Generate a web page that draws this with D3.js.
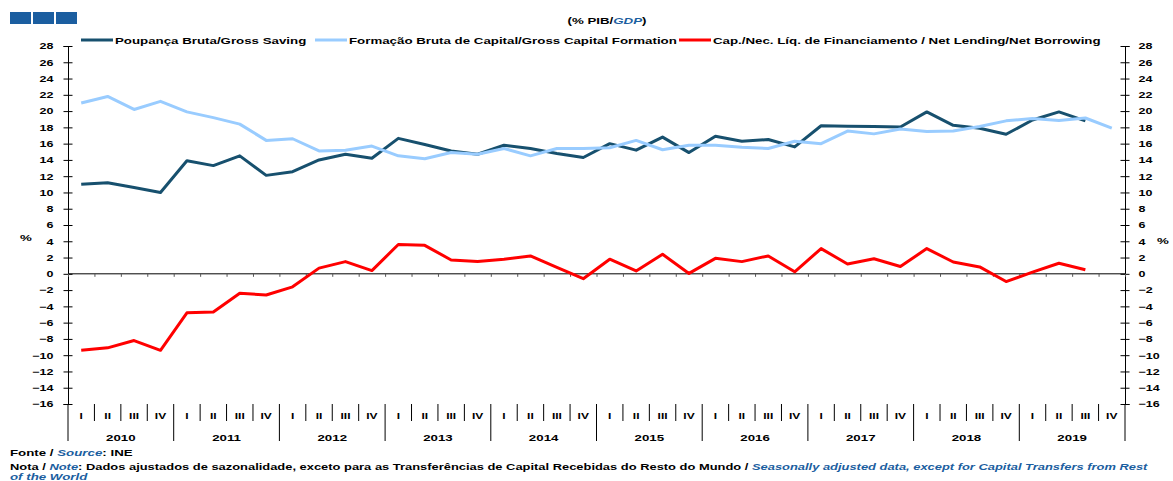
<!DOCTYPE html>
<html>
<head>
<meta charset="utf-8">
<script src="https://cdn.jsdelivr.net/npm/d3@7"></script>
<style>
  body { margin: 0; background: #fff; }
  svg { display: block; font-family: "Liberation Sans", Arial, sans-serif; font-weight: bold; }
</style>
</head>
<body>
<script>
// quarters 2010 Q1 .. 2019 Q4
const years = [2010, 2011, 2012, 2013, 2014, 2015, 2016, 2017, 2018, 2019];
const quarterLabels = ["I", "II", "III", "IV"];
const yTicks = d3.range(-16, 29, 2);

const grossSaving = [
  11.0, 11.2, 10.6, 10.0,
  13.9, 13.3, 14.5, 12.1,
  12.55, 14.0, 14.7, 14.2,
  16.65, 15.9, 15.1, 14.7,
  15.8, 15.4, 14.8, 14.3,
  16.0, 15.2, 16.8, 14.9,
  16.9, 16.3, 16.5, 15.6,
  18.2, 18.15, 18.1, 18.05,
  19.9, 18.25, 17.9, 17.15,
  18.9, 19.9, 18.8, null
];
const grossCapital = [
  21.0, 21.8, 20.2, 21.2,
  19.9, 19.2, 18.4, 16.4,
  16.6, 15.1, 15.2, 15.7,
  14.5, 14.15, 14.9, 14.7,
  15.4, 14.5, 15.4, 15.4,
  15.5, 16.4, 15.25, 15.8,
  15.8, 15.55, 15.4, 16.3,
  16.0, 17.55, 17.2, 17.8,
  17.5, 17.55, 18.1, 18.8,
  19.1, 18.85, 19.15, 17.9
];
const netLending = [
  -9.4, -9.1, -8.2, -9.4,
  -4.8, -4.7, -2.4, -2.6,
  -1.6, 0.7, 1.5, 0.4,
  3.6, 3.5, 1.7, 1.5,
  1.8, 2.2, 0.8, -0.6,
  1.8, 0.35, 2.4, 0.05,
  1.9, 1.5, 2.2, 0.25,
  3.1, 1.2, 1.85, 0.9,
  3.1, 1.45, 0.85, -0.95,
  0.2, 1.3, 0.5, null
];

const quarters = [];
years.forEach(y => quarterLabels.forEach(q => quarters.push(y + " " + q)));

const series = [
  { name: "Poupança Bruta/Gross Saving", values: grossSaving, color: "#17506E" },
  { name: "Formação Bruta de Capital/Gross Capital Formation", values: grossCapital, color: "#99CCFF" },
  { name: "Cap./Nec. Líq. de Financiamento / Net Lending/Net Borrowing", values: netLending, color: "#FF0000" }
];

const W = 1173, H = 481;
const plotLeft = 68, plotRight = 1125, plotTop = 46, plotBottom = 404;
const squash = "scale(1,0.72)";
const fs = 13.3;

const svg = d3.select("body").append("svg")
  .attr("width", W).attr("height", H);

const x = d3.scaleBand().domain(quarters).range([plotLeft, plotRight]);
const xIdx = d3.scaleLinear().domain([0, quarters.length]).range([plotLeft, plotRight]);
const y = d3.scaleLinear().domain([-16, 28]).range([plotBottom, plotTop]);

function label(g, px, py, txt, size, anchor) {
  return g.append("text")
    .attr("transform", "translate(" + px + "," + py + ") " + squash)
    .attr("font-size", size)
    .attr("text-anchor", anchor || "start")
    .text(txt);
}

// blue boxes top left
[0, 1, 2].forEach(i => {
  svg.append("rect")
    .attr("x", 10 + i * 23).attr("y", 12)
    .attr("width", 21).attr("height", 12)
    .attr("fill", "#1B5EA0");
});

// title
const title = svg.append("text")
  .attr("transform", "translate(607,24) " + squash)
  .attr("font-size", fs)
  .attr("text-anchor", "middle");
title.append("tspan").text("(% PIB/");
title.append("tspan").attr("fill", "#1B5EA0").attr("font-style", "italic").text("GDP");
title.append("tspan").text(")");

// legend
const legX = [81, 315, 679];
series.forEach((s, i) => {
  svg.append("line")
    .attr("x1", legX[i]).attr("x2", legX[i] + 32)
    .attr("y1", 40).attr("y2", 40)
    .attr("stroke", s.color).attr("stroke-width", 3);
  label(svg, legX[i] + 34, 44, s.name, fs);
});

// y axes
const yLeft = svg.append("g")
  .attr("transform", "translate(" + plotLeft + ",0)")
  .call(d3.axisLeft(y).tickValues(yTicks).tickSizeOuter(0).tickSize(4.5).tickPadding(10));
const yRight = svg.append("g")
  .attr("transform", "translate(" + plotRight + ",0)")
  .call(d3.axisRight(y).tickValues(yTicks).tickSizeOuter(0).tickSize(4.5).tickPadding(9));
[yLeft, yRight].forEach(g => {
  g.select(".domain").attr("stroke", "#000");
  g.selectAll(".tick line").attr("x1", -4.5).attr("x2", 4.5).attr("stroke", "#000");
  g.selectAll(".tick text")
    .attr("font-size", 12.5).attr("font-family", null).attr("fill", "#000")
    .attr("transform", squash);
});

label(svg, 26, 241, "%", fs, "middle");
label(svg, 1163, 244, "%", fs, "middle");

// zero line with quarter ticks
svg.append("g")
  .attr("transform", "translate(0," + y(0) + ")")
  .call(d3.axisBottom(xIdx).tickValues(d3.range(0, quarters.length + 1)).tickSize(3).tickFormat(""))
  .call(g => g.select(".domain").attr("stroke", "#000").attr("d", "M" + plotLeft + ",0H" + plotRight))
  .call(g => g.selectAll(".tick line").attr("stroke", "#555"));

// category separators
svg.append("g").selectAll("line")
  .data(d3.range(0, quarters.length + 1))
  .join("line")
  .attr("x1", d => xIdx(d)).attr("x2", d => xIdx(d))
  .attr("y1", plotBottom)
  .attr("y2", d => d % 4 === 0 ? 441 : 421)
  .attr("stroke", "#000");

// quarter labels
quarters.forEach((q, i) => {
  label(svg, x(q) + x.bandwidth() / 2, 419, quarterLabels[i % 4], 12, "middle");
});
// year labels
years.forEach((yr, i) => {
  label(svg, (xIdx(i * 4) + xIdx(i * 4 + 4)) / 2, 441, String(yr), fs, "middle");
});

// lines
const line = d3.line()
  .defined(d => d.v !== null)
  .x(d => x(d.q) + x.bandwidth() / 2)
  .y(d => y(d.v));

series.forEach(s => {
  svg.append("path")
    .datum(quarters.map((q, i) => ({ q: q, v: s.values[i] })))
    .attr("fill", "none")
    .attr("stroke", s.color)
    .attr("stroke-width", 3)
    .attr("stroke-linejoin", "round")
    .attr("d", line);
});

// footer
const f1 = svg.append("text")
  .attr("transform", "translate(10,456) " + squash)
  .attr("font-size", fs);
f1.append("tspan").text("Fonte / ");
f1.append("tspan").attr("fill", "#1B5EA0").attr("font-style", "italic").text("Source");
f1.append("tspan").text(":  INE");

const f2 = svg.append("text")
  .attr("transform", "translate(10,470) scale(0.97,0.72)")
  .attr("font-size", fs);
f2.append("tspan").text("Nota / ");
f2.append("tspan").attr("fill", "#1B5EA0").attr("font-style", "italic").text("Note");
f2.append("tspan").text(": Dados ajustados de sazonalidade, exceto para as Transferências de Capital Recebidas do Resto do Mundo / ");
f2.append("tspan").attr("fill", "#1B5EA0").attr("font-style", "italic").text("Seasonally adjusted data, except for Capital Transfers from Rest");

svg.append("text")
  .attr("transform", "translate(10,480) " + squash)
  .attr("font-size", fs)
  .attr("fill", "#1B5EA0").attr("font-style", "italic")
  .text("of the World");
</script>
</body>
</html>
